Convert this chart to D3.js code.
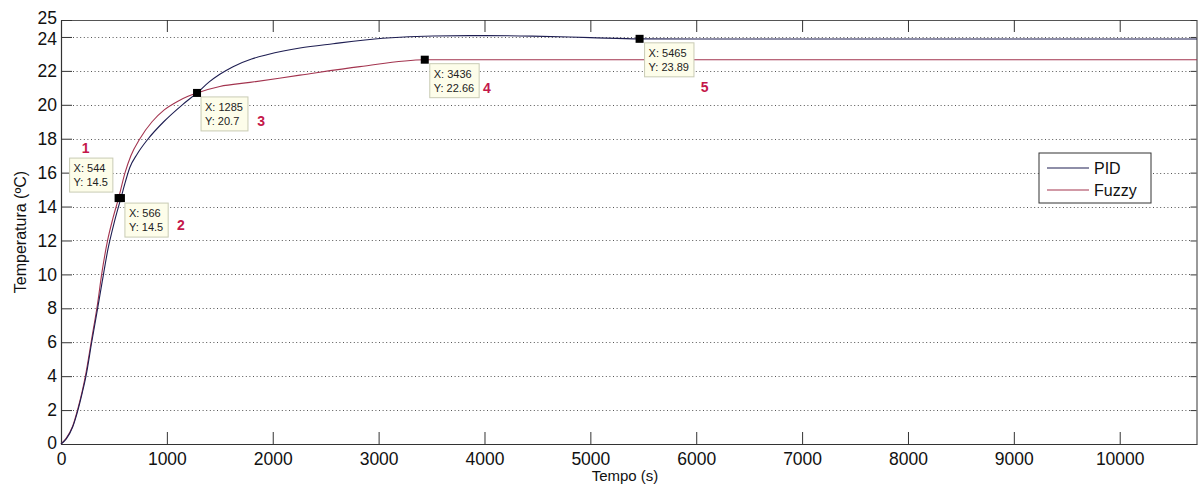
<!DOCTYPE html>
<html>
<head>
<meta charset="utf-8">
<script src="https://cdn.jsdelivr.net/npm/d3@7"></script>
<style>
  body { margin: 0; background: #fff; }
  svg { display: block; font-family: "Liberation Sans", Arial, sans-serif; }
</style>
</head>
<body>
<div id="chart"></div>
<script>
// Data
const seriesNames = ['PID', 'Fuzzy'];

const pidTime = [0, 50, 110, 160, 200, 236, 290, 346, 390, 444, 500, 566, 610, 650, 720, 824, 970, 1146, 1285, 1400, 1500, 1625, 1800, 1945, 2100, 2257, 2570, 3040, 3513, 4000, 4450, 5000, 5465, 6000, 7000, 8000, 9000, 10000, 10730];
const pidTemp = [0, 0.3, 1, 2, 3, 4, 6, 8, 9.6, 11.5, 13.0, 14.5, 15.5, 16.3, 17.1, 18, 19, 20, 20.7, 21.35, 21.8, 22.25, 22.7, 22.95, 23.17, 23.35, 23.6, 23.92, 24.06, 24.08, 24.05, 23.96, 23.89, 23.88, 23.88, 23.88, 23.88, 23.88, 23.88];

const fuzzyTime = [0, 50, 110, 160, 200, 236, 290, 346, 384, 440, 490, 544, 605, 660, 745, 860, 975, 1100, 1200, 1285, 1500, 1785, 2257, 2823, 3436, 4000, 5000, 6000, 7000, 8000, 9000, 10000, 10730];
const fuzzyTemp = [0, 0.35, 1.05, 2.1, 3.1, 4.2, 6.2, 8.3, 10, 12, 13.3, 14.5, 16, 17, 18, 19, 19.7, 20.2, 20.5, 20.7, 21.08, 21.32, 21.75, 22.25, 22.66, 22.66, 22.66, 22.66, 22.66, 22.66, 22.66, 22.66, 22.66];

const tipX = [544, 566, 1285, 3436, 5465];
const tipY = [14.5, 14.5, 20.7, 22.66, 23.89];
const tipLabels = ['1', '2', '3', '4', '5'];

const xTicks = [0, 1000, 2000, 3000, 4000, 5000, 6000, 7000, 8000, 9000, 10000];
const yTicks = [0, 2, 4, 6, 8, 10, 12, 14, 16, 18, 20, 22, 24, 25];
const yGrid = [2, 4, 6, 8, 10, 12, 14, 16, 18, 20, 22, 24];

// layout
const width = 1198, height = 487;
const margin = { top: 20, right: 1, bottom: 43, left: 61 };
const colors = { PID: '#1e1e52', Fuzzy: '#a3344f' };
// data-tip box offsets from the marker (px)
const tipBoxOffset = [[-49, -40], [4, 5], [4, 4], [5, 4], [5, 4]];
// numbered red annotations, offset from the marker (px)
const numOffset = [[-33, -45], [60, 32], [64, 33], [62, 33], [65, 53]];

const svg = d3.select('#chart').append('svg')
  .attr('width', width)
  .attr('height', height);

const x = d3.scaleLinear().domain([0, 10730]).range([margin.left, width - margin.right]);
const y = d3.scaleLinear().domain([0, 25]).range([height - margin.bottom, margin.top]);

// dotted grid
svg.append('g').selectAll('line').data(yGrid).join('line')
  .attr('x1', x(0) + 12).attr('x2', x.range()[1] - 6)
  .attr('y1', d => Math.round(y(d)) + 0.5).attr('y2', d => Math.round(y(d)) + 0.5)
  .attr('stroke', '#555').attr('stroke-width', 1)
  .attr('stroke-dasharray', '1,2.6');

// axes (MATLAB style: ticks inside, box)
const xAxisB = d3.axisBottom(x).tickValues(xTicks).tickSizeInner(-12).tickSizeOuter(0).tickPadding(9).tickFormat(d3.format('d'));
const xAxisT = d3.axisTop(x).tickValues(xTicks).tickSizeInner(-12).tickSizeOuter(0).tickFormat('');
const yAxisL = d3.axisLeft(y).tickValues(yTicks).tickSizeInner(-11).tickSizeOuter(0).tickPadding(4);
const yAxisR = d3.axisRight(y).tickValues(yTicks).tickSizeInner(-6).tickSizeOuter(0).tickFormat('');

const gxb = svg.append('g').attr('transform', `translate(0,${y(0)})`).call(xAxisB);
const gxt = svg.append('g').attr('transform', `translate(0,${y(25)})`).call(xAxisT);
const gyl = svg.append('g').attr('transform', `translate(${x(0)},0)`).call(yAxisL);
const gyr = svg.append('g').attr('transform', `translate(${x.range()[1] - 0.5},0)`).call(yAxisR);

[gxb, gxt, gyl, gyr].forEach(g => {
  g.select('.domain').attr('stroke', '#333').attr('stroke-width', 1.2);
  g.selectAll('.tick line').attr('stroke', '#333');
  g.selectAll('.tick text').attr('fill', '#111').style('font-size', '17.5px')
    .style('font-family', '"Liberation Sans", Arial, sans-serif');
});
gxb.selectAll('.tick text').attr('dy', '0.71em');
gxt.select('.domain').attr('stroke', '#555');
gyr.select('.domain').attr('stroke', '#555');
// the 25 label sits just above 24
gyl.selectAll('.tick').filter(d => d === 25).select('text').attr('dy', '0.2em');
gyl.selectAll('.tick').filter(d => d === 24).select('text').attr('dy', '0.45em');
gyl.selectAll('.tick').filter(d => d === 0).select('text').attr('dy', '0.25em');

// lines
const line = d3.line().x(d => x(d[0])).y(d => y(d[1])).curve(d3.curveMonotoneX);
const pidData = pidTime.map((t, i) => [t, pidTemp[i]]);
const fuzzyData = fuzzyTime.map((t, i) => [t, fuzzyTemp[i]]);

svg.append('path').datum(fuzzyData)
  .attr('d', line).attr('fill', 'none')
  .attr('stroke', colors.Fuzzy).attr('stroke-width', 1.1);
svg.append('path').datum(pidData)
  .attr('d', line).attr('fill', 'none')
  .attr('stroke', colors.PID).attr('stroke-width', 1.1);

// axis labels
svg.append('text')
  .attr('x', (x.range()[0] + x.range()[1]) / 2 - 4)
  .attr('y', 481)
  .attr('text-anchor', 'middle')
  .style('font-size', '15px').attr('fill', '#111')
  .text('Tempo (s)');

svg.append('text')
  .attr('transform', `translate(26,${(y(0) + y(25)) / 2}) rotate(-90)`)
  .attr('text-anchor', 'middle')
  .style('font-size', '16px').attr('fill', '#111')
  .text('Temperatura (ºC)');

// data tips
const tips = svg.append('g');
tipX.forEach((tx, i) => {
  const px = x(tx), py = y(tipY[i]);
  const bx = px + tipBoxOffset[i][0], by = py + tipBoxOffset[i][1];
  const g = tips.append('g');
  const rect = g.append('rect')
    .attr('x', bx).attr('y', by).attr('height', 34)
    .attr('fill', '#fdfdea').attr('stroke', '#c9cbb4').attr('stroke-width', 1);
  const t1 = g.append('text').attr('x', bx + 4).attr('y', by + 14)
    .style('font-size', '11px').attr('fill', '#222').text('X: ' + tx);
  const t2 = g.append('text').attr('x', bx + 4).attr('y', by + 28)
    .style('font-size', '11px').attr('fill', '#222').text('Y: ' + tipY[i]);
  const w = Math.max(t1.node().getComputedTextLength(), t2.node().getComputedTextLength());
  rect.attr('width', w + 9);

  svg.append('rect')
    .attr('x', px - 4).attr('y', py - 4)
    .attr('width', 8).attr('height', 8)
    .attr('fill', '#000');

  svg.append('text')
    .attr('x', px + numOffset[i][0]).attr('y', py + numOffset[i][1])
    .attr('text-anchor', 'middle')
    .style('font-size', '14px').style('font-weight', 'bold')
    .attr('fill', '#c4174a')
    .text(tipLabels[i]);
});

// legend
const legend = svg.append('g').attr('transform', 'translate(1039,153)');
legend.append('rect')
  .attr('width', 112).attr('height', 50)
  .attr('fill', '#fff').attr('stroke', '#333').attr('stroke-width', 1);
seriesNames.forEach((name, i) => {
  legend.append('line')
    .attr('x1', 8).attr('x2', 50)
    .attr('y1', 15 + i * 22).attr('y2', 15 + i * 22)
    .attr('stroke', colors[name]).attr('stroke-width', 1.1);
  legend.append('text')
    .attr('x', 55).attr('y', 21 + i * 22)
    .style('font-size', '16px').attr('fill', '#111')
    .text(name);
});
</script>
</body>
</html>
